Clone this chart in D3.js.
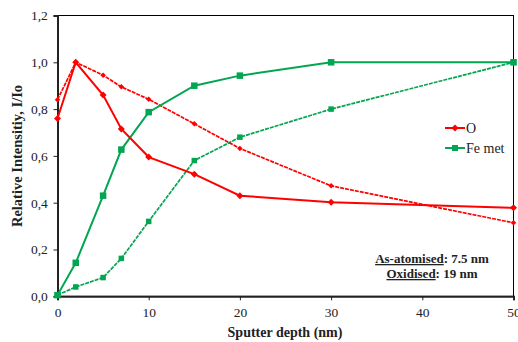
<!DOCTYPE html>
<html><head><meta charset="utf-8">
<script src="https://cdn.jsdelivr.net/npm/d3@7"></script>
<style>body{margin:0;background:#fff}svg{display:block}text{font-family:"Liberation Serif","Times New Roman",serif}</style>
</head><body><svg id="c" width="518" height="342"></svg>
<script>
const depth = [0, 2, 5, 7, 10, 15, 20, 30, 50];
const oOxidised = [0.76, 1.0, 0.86, 0.715, 0.595, 0.522, 0.43, 0.402, 0.378];
const oAtomised = [0.84, 1.0, 0.945, 0.895, 0.842, 0.737, 0.632, 0.472, 0.314];
const feOxidised = [0.005, 0.143, 0.43, 0.627, 0.787, 0.9, 0.943, 1.0, 1.0];
const feAtomised = [0.005, 0.04, 0.08, 0.162, 0.32, 0.58, 0.68, 0.8, 1.0];
const xTicks = [0, 10, 20, 30, 40, 50];
const yTicks = [0, 0.2, 0.4, 0.6, 0.8, 1.0, 1.2];

const svg = d3.select("#c");
const L = 57.5, R = 513.5, T = 15.5, B = 296.3;
const x = d3.scaleLinear().domain([0, 50]).range([L, R]);
const y = d3.scaleLinear().domain([0, 1.2]).range([B, T]);
const red = "#ff0000", green = "#00a650";

svg.append("rect").attr("x", L).attr("y", T).attr("width", R - L).attr("height", B - T)
  .attr("fill", "none").attr("stroke", "#000").attr("stroke-width", 1);

const xa = svg.append("g").attr("transform", `translate(0,${B})`)
  .call(d3.axisBottom(x).tickValues(xTicks).tickSize(4).tickFormat(d3.format("d")));
const ya = svg.append("g").attr("transform", `translate(${L},0)`)
  .call(d3.axisLeft(y).tickValues(yTicks).tickSize(4).tickFormat(d => d.toFixed(1).replace(".", ",")));
[xa, ya].forEach(a => {
  a.select(".domain").attr("stroke", "#222").attr("stroke-width", 2);
  a.selectAll(".tick line").attr("stroke", "#222");
  a.selectAll("text").attr("font-size", 13.5).attr("fill", "#222");
});
xa.selectAll("text").attr("dy", "1.05em");
ya.selectAll("text").attr("dx", "-0.2em");

const line = d3.line().x((d, i) => x(depth[i])).y(d => y(d));
function series(vals, color, w, dash, marker, ms) {
  svg.append("path").datum(vals).attr("d", line).attr("fill", "none")
    .attr("stroke", color).attr("stroke-width", w).attr("stroke-dasharray", dash);
  const g = svg.append("g");
  vals.forEach((v, i) => {
    const cx = x(depth[i]), cy = y(v);
    if (marker === "sq") g.append("rect").attr("x", cx - ms / 2).attr("y", cy - ms / 2).attr("width", ms).attr("height", ms).attr("fill", color);
    else g.append("path").attr("d", `M${cx},${cy - ms / 2}L${cx + ms / 2},${cy}L${cx},${cy + ms / 2}L${cx - ms / 2},${cy}Z`).attr("fill", color);
  });
}
series(feAtomised, green, 1.7, "4,1", "sq", 5.5);
series(oAtomised, red, 1.7, "4,1", "dm", 5.5);
series(feOxidised, green, 2, null, "sq", 6.5);
series(oOxidised, red, 2, null, "dm", 7);

const lg = [["O", red, "dm", 128], ["Fe met", green, "sq", 148]];
lg.forEach(([t, c, m, ly]) => {
  svg.append("line").attr("x1", 445).attr("x2", 465).attr("y1", ly).attr("y2", ly).attr("stroke", c).attr("stroke-width", 2);
  if (m === "sq") svg.append("rect").attr("x", 452).attr("y", ly - 3).attr("width", 6).attr("height", 6).attr("fill", c);
  else svg.append("path").attr("d", `M455,${ly - 3.5}L458.5,${ly}L455,${ly + 3.5}L451.5,${ly}Z`).attr("fill", c);
  svg.append("text").attr("x", 466).attr("y", ly + 5).attr("font-size", 14).attr("fill", "#222").text(t);
});

const ann = [["As-atomised", ": 7.5 nm", 263], ["Oxidised", ": 19 nm", 278]];
ann.forEach(([u, rest, ay]) => {
  const t = svg.append("text").attr("x", 432).attr("y", ay).attr("text-anchor", "middle")
    .attr("font-size", 13).attr("font-weight", "bold").attr("fill", "#222");
  t.append("tspan").attr("text-decoration", "underline").text(u);
  t.append("tspan").text(rest);
});

svg.append("text").attr("x", 285).attr("y", 337).attr("text-anchor", "middle")
  .attr("font-size", 14).attr("font-weight", "bold").attr("fill", "#222").text("Sputter depth (nm)");
svg.append("text").attr("transform", "translate(22,156) rotate(-90)").attr("text-anchor", "middle")
  .attr("font-size", 14.5).attr("font-weight", "bold").attr("fill", "#222").text("Relative Intensitiy, I/Io");
</script></body></html>
